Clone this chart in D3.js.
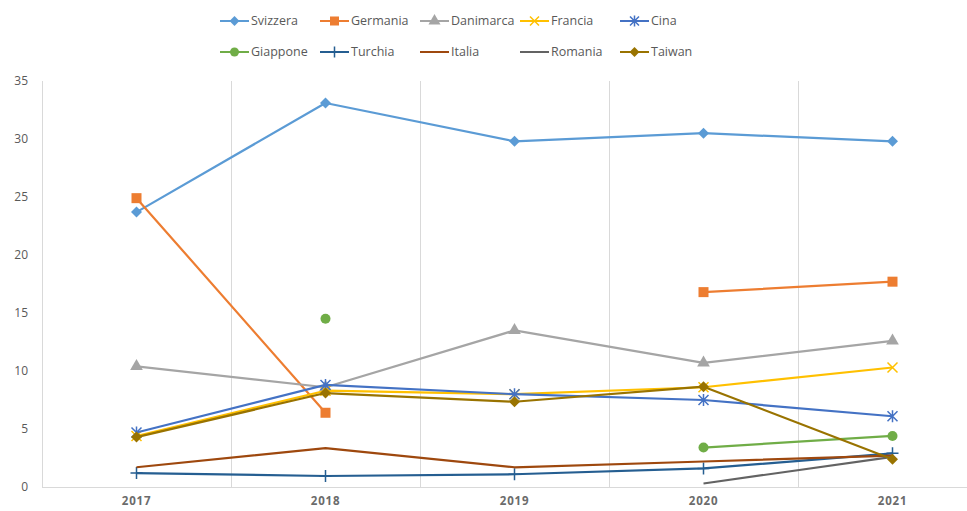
<!DOCTYPE html>
<html><head><meta charset="utf-8">
<script src="https://cdn.jsdelivr.net/npm/d3@7"></script>
<style>body{margin:0;background:#fff;} svg{display:block;font-family:"Open Sans",sans-serif;}</style>
</head><body>
<svg id="c" width="967" height="511"></svg>
<script>
const years = ["2017","2018","2019","2020","2021"];
const yTicks = [0,5,10,15,20,25,30,35];
const svizzera  = [23.7, 33.1, 29.8, 30.5, 29.8];
const germania  = [24.9, 6.4, null, 16.8, 17.7];
const danimarca = [10.4, 8.6, 13.5, 10.7, 12.6];
const francia   = [4.4, 8.3, 8.0, 8.6, 10.3];
const cina      = [4.7, 8.8, 8.0, 7.5, 6.1];
const giappone  = [null, 14.5, null, 3.4, 4.4];
const turchia   = [1.2, 0.95, 1.1, 1.6, 2.9];
const italia    = [1.7, 3.35, 1.7, 2.2, 2.7];
const romania   = [null, null, null, 0.3, 2.6];
const taiwan    = [4.3, 8.1, 7.35, 8.65, 2.4];

const series = [
  {name:"Svizzera", values:svizzera, color:"#5B9BD5", marker:"diamond"},
  {name:"Germania", values:germania, color:"#ED7D31", marker:"square"},
  {name:"Danimarca", values:danimarca, color:"#A5A5A5", marker:"triangle"},
  {name:"Francia", values:francia, color:"#FFC000", marker:"x"},
  {name:"Cina", values:cina, color:"#4472C4", marker:"star"},
  {name:"Giappone", values:giappone, color:"#70AD47", marker:"circle"},
  {name:"Turchia", values:turchia, color:"#255E91", marker:"plus"},
  {name:"Italia", values:italia, color:"#9E480E", marker:"none"},
  {name:"Romania", values:romania, color:"#636363", marker:"none"},
  {name:"Taiwan", values:taiwan, color:"#997300", marker:"diamond"}
];

(function(){
const svg = d3.select("#c");
const pLeft = 42, pRight = 987, pTop = 81, pBottom = 487;
const x = d3.scaleBand().domain(years).range([pLeft, pRight]).padding(0);
const y = d3.scaleLinear().domain([0,35]).range([pBottom, pTop]);
const cx = d => x(d) + x.bandwidth()/2;

const g = svg.append("g");
years.forEach(yr => {
  const xx = Math.round(x(yr)) + 0.5;
  g.append("line").attr("x1",xx).attr("x2",xx).attr("y1",pTop).attr("y2",pBottom)
    .attr("stroke","#d9d9d9").attr("stroke-width",1);
});
g.append("line").attr("x1",pLeft).attr("x2",967).attr("y1",pBottom+0.5).attr("y2",pBottom+0.5)
  .attr("stroke","#d9d9d9").attr("stroke-width",1);

const yAxis = d3.axisLeft(y).tickValues(yTicks).tickSize(0).tickPadding(14);
const ya = svg.append("g").attr("transform",`translate(${pLeft},0)`).call(yAxis);
ya.select(".domain").remove();
ya.selectAll("text").attr("fill","#595959").style("font-size","12px").style("font-family","'Open Sans',sans-serif");

const xAxis = d3.axisBottom(x).tickSize(0).tickPadding(10);
const xa = svg.append("g").attr("transform",`translate(0,${pBottom})`).call(xAxis);
xa.select(".domain").remove();
xa.selectAll("text").attr("fill","#6b6b6b").style("font-size","11.5px").style("font-weight","bold")
  .style("letter-spacing","0.8px").style("font-family","'Open Sans',sans-serif");

function drawMarker(sel, type, color, px, py, s) {
  s = s || 1;
  if (type === "diamond") {
    const r = 5.5*s;
    sel.append("path").attr("d",`M${px},${py-r}L${px+r},${py}L${px},${py+r}L${px-r},${py}Z`).attr("fill",color);
  } else if (type === "square") {
    sel.append("rect").attr("x",px-5*s).attr("y",py-5*s).attr("width",10*s).attr("height",10*s).attr("fill",color);
  } else if (type === "triangle") {
    sel.append("path").attr("d",d3.symbol(d3.symbolTriangle, 70*s)()).attr("transform",`translate(${px},${py})`).attr("fill",color);
  } else if (type === "circle") {
    sel.append("circle").attr("cx",px).attr("cy",py).attr("r",5*s).attr("fill",color);
  } else if (type === "x") {
    const r = 5*s;
    sel.append("path").attr("d",`M${px-r},${py-r}L${px+r},${py+r}M${px-r},${py+r}L${px+r},${py-r}`).attr("stroke",color).attr("stroke-width",1.5);
  } else if (type === "star") {
    const r = 5*s;
    sel.append("path").attr("d",`M${px-r},${py-r}L${px+r},${py+r}M${px-r},${py+r}L${px+r},${py-r}M${px},${py-r-1}L${px},${py+r+1}`).attr("stroke",color).attr("stroke-width",1.5);
  } else if (type === "plus") {
    const r = 6*s;
    sel.append("path").attr("d",`M${px-r},${py}L${px+r},${py}M${px},${py-r}L${px},${py+r}`).attr("stroke",color).attr("stroke-width",1.5);
  }
}

const line = d3.line().defined(d => d.v !== null).x(d => cx(d.yr)).y(d => y(d.v));
const plot = svg.append("g");
series.forEach(s => {
  const pts = years.map((yr,i) => ({yr, v:s.values[i]}));
  plot.append("path").datum(pts).attr("d",line).attr("fill","none")
    .attr("stroke",s.color).attr("stroke-width",2.2).attr("stroke-linejoin","round");
  const mg = plot.append("g");
  pts.forEach(p => { if (p.v !== null) drawMarker(mg, s.marker, s.color, cx(p.yr), y(p.v)); });
});

const leg = svg.append("g");
series.forEach((s,i) => {
  const col = i % 5, row = Math.floor(i/5);
  const lx = 220 + col*100, ly = row === 0 ? 21 : 52;
  leg.append("line").attr("x1",lx).attr("x2",lx+29).attr("y1",ly).attr("y2",ly).attr("stroke",s.color).attr("stroke-width",2);
  drawMarker(leg, s.marker, s.color, lx+14.5, ly, 0.9);
  leg.append("text").attr("x",lx+31).attr("y",ly).attr("dy","0.35em").text(s.name)
    .attr("fill","#595959").style("font-size","12.5px");
});
})();
</script>
</body></html>
